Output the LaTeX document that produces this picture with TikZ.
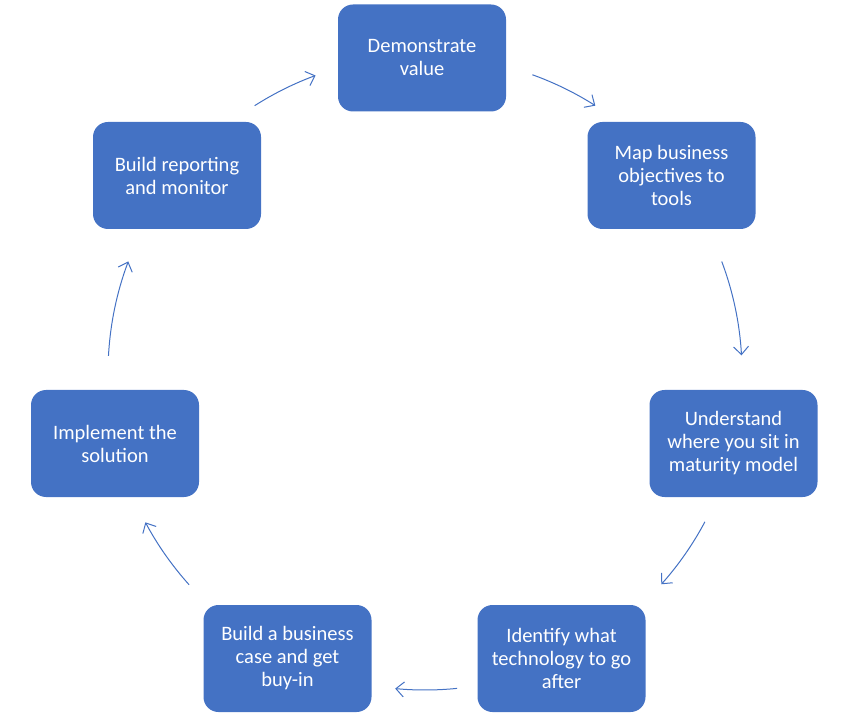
\documentclass[tikz,border=0pt]{standalone}
\usepackage{fontspec}
\setmainfont{Carlito}
\usetikzlibrary{arrows.meta}
\definecolor{boxblue}{HTML}{4472C4}
\tikzset{
  stepbox/.style={fill=boxblue, draw=none, rounded corners=15pt, minimum width=168pt, minimum height=107pt,
    text=white, align=center, font=\fontsize{20.5pt}{23pt}\selectfont, inner sep=0pt},
  cycarrow/.style={draw=boxblue, line width=1pt, -{Straight Barb[length=8pt,width=15pt]}}
}
\begin{document}
\begin{tikzpicture}[x=1pt,y=1pt]
\useasboundingbox (0,0) rectangle (850,715);
\node[stepbox] (n1) at (422,657) {Demonstrate\\value};
\node[stepbox] (n2) at (671.5,539.5) {Map business\\objectives to\\tools};
\node[stepbox] (n3) at (733.5,271.5) {Understand\\where you sit in\\maturity model};
\node[stepbox] (n4) at (561.5,56.5) {Identify what\\technology to go\\after};
\node[stepbox] (n5) at (287.5,56.5) {Build a business\\case and get\\buy-in};
\node[stepbox] (n6) at (115,271.5) {Implement the\\solution};
\node[stepbox] (n7) at (177,539.5) {Build reporting\\and monitor};
\coordinate (ctr) at (425,342);
\coordinate (a1) at ([shift={(122.5:317pt)}]ctr);
\coordinate (a2) at ([shift={(70.2:317pt)}]ctr);
\coordinate (a3) at ([shift={(20.6:317pt)}]ctr);
\coordinate (a4) at ([shift={(-28.0:317pt)}]ctr);
\coordinate (a5) at ([shift={(-84.2:317pt)}]ctr);
\coordinate (a6) at ([shift={(-138.1:317pt)}]ctr);
\coordinate (a7) at ([shift={(176.9:317pt)}]ctr);
\draw[cycarrow] (a1) arc[start angle=122.5, end angle=110.2, radius=317pt];
\draw[cycarrow] (a2) arc[start angle=70.2, end angle=57.5, radius=317pt];
\draw[cycarrow] (a3) arc[start angle=20.6, end angle=3.2, radius=317pt];
\draw[cycarrow] (a4) arc[start angle=-28.0, end angle=-41.8, radius=317pt];
\draw[cycarrow] (a5) arc[start angle=-84.2, end angle=-95.4, radius=317pt];
\draw[cycarrow] (a6) arc[start angle=-138.1, end angle=-151.9, radius=317pt];
\draw[cycarrow] (a7) arc[start angle=176.9, end angle=159.4, radius=317pt];
\end{tikzpicture}
\end{document}
